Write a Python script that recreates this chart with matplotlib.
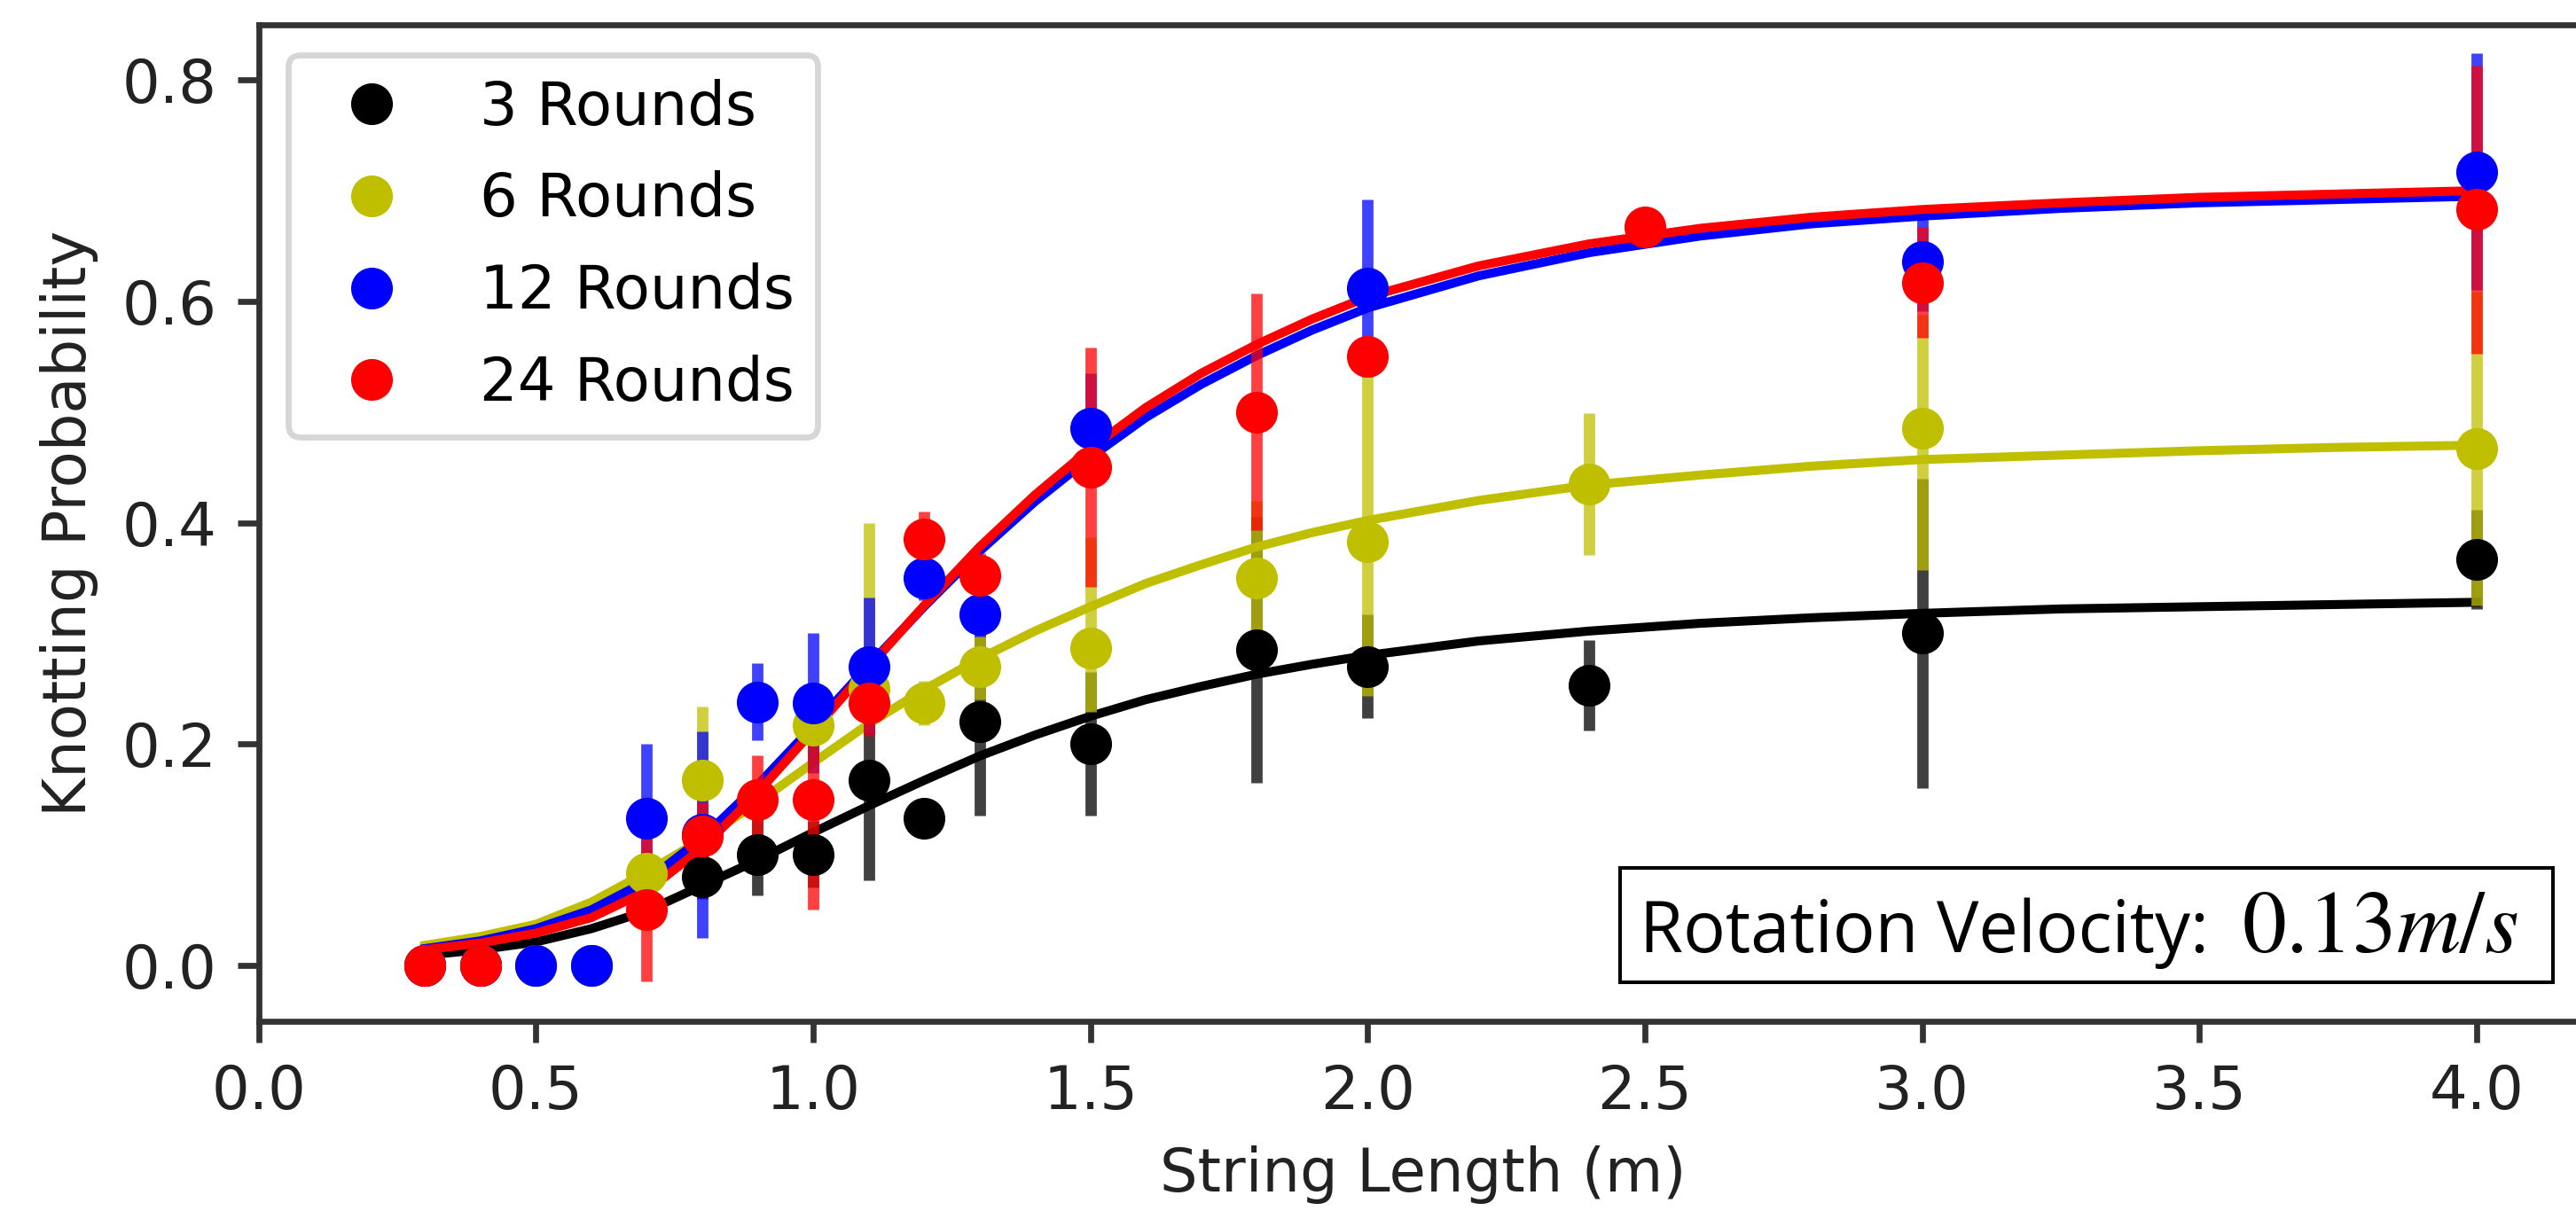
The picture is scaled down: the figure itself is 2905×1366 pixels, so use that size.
import matplotlib
matplotlib.use("Agg")
import matplotlib.pyplot as plt
from matplotlib.lines import Line2D
from matplotlib.patches import Rectangle

# ---------------- data ----------------
series_labels = ["3 Rounds", "6 Rounds", "12 Rounds", "24 Rounds"]

black_x = [0.3, 0.4, 0.5, 0.6, 0.8, 0.9, 1.0, 1.1, 1.2, 1.3, 1.5, 1.8, 2.0, 2.4, 3.0, 4.0]
black_y = [0.0, 0.0, 0.0, 0.0, 0.08, 0.10, 0.10, 0.167, 0.133, 0.22, 0.20, 0.285, 0.27, 0.253, 0.30, 0.367]
black_err = [0.0, 0.0, 0.0, 0.0, 0.02, 0.037, 0.03, 0.09, 0.015, 0.085, 0.065, 0.12, 0.047, 0.041, 0.14, 0.045]

yellow_x = [0.3, 0.4, 0.5, 0.6, 0.7, 0.8, 1.0, 1.1, 1.2, 1.3, 1.5, 1.8, 2.0, 2.4, 3.0, 4.0]
yellow_y = [0.0, 0.0, 0.0, 0.0, 0.083, 0.167, 0.217, 0.25, 0.237, 0.27, 0.287, 0.35, 0.383, 0.435, 0.485, 0.467]
yellow_err_lo = [0.0, 0.0, 0.0, 0.0, 0.02, 0.067, 0.03, 0.04, 0.02, 0.03, 0.058, 0.07, 0.14, 0.064, 0.128, 0.142]
yellow_err_hi = [0.0, 0.0, 0.0, 0.0, 0.02, 0.067, 0.03, 0.15, 0.02, 0.03, 0.10, 0.07, 0.15, 0.064, 0.103, 0.142]

blue_x = [0.3, 0.4, 0.5, 0.6, 0.7, 0.8, 0.9, 1.0, 1.1, 1.2, 1.3, 1.5, 2.0, 3.0, 4.0]
blue_y = [0.0, 0.0, 0.0, 0.0, 0.133, 0.118, 0.238, 0.237, 0.27, 0.35, 0.317, 0.485, 0.612, 0.636, 0.717]
blue_err = [0.0, 0.0, 0.0, 0.0, 0.067, 0.093, 0.035, 0.063, 0.062, 0.02, 0.02, 0.05, 0.08, 0.045, 0.107]

red_x = [0.3, 0.4, 0.7, 0.8, 0.9, 1.0, 1.1, 1.2, 1.3, 1.5, 1.8, 2.0, 2.5, 3.0, 4.0]
red_y = [0.0, 0.0, 0.05, 0.117, 0.15, 0.15, 0.237, 0.385, 0.352, 0.45, 0.50, 0.55, 0.667, 0.617, 0.683]
red_err = [0.0, 0.0, 0.065, 0.03, 0.04, 0.10, 0.03, 0.025, 0.02, 0.108, 0.107, 0.015, 0.015, 0.05, 0.13]

# fitted curves
fit_x = [0.3, 0.4, 0.5, 0.6, 0.7, 0.8, 0.9, 1.0, 1.1, 1.2, 1.3, 1.4, 1.5, 1.6, 1.7,
         1.8, 1.9, 2.0, 2.2, 2.4, 2.6, 2.8, 3.0, 3.25, 3.5, 3.75, 4.0]
black_fit = [0.009, 0.014, 0.021, 0.033, 0.049, 0.072, 0.095, 0.120, 0.144, 0.167, 0.189, 0.208,
             0.225, 0.240, 0.252, 0.263, 0.272, 0.280, 0.293, 0.302, 0.309, 0.314, 0.318, 0.322,
             0.324, 0.326, 0.328]
yellow_fit = [0.018, 0.026, 0.037, 0.057, 0.084, 0.114, 0.147, 0.183, 0.218, 0.249, 0.277, 0.302,
              0.324, 0.345, 0.362, 0.378, 0.391, 0.402, 0.420, 0.434, 0.443, 0.451, 0.457, 0.461,
              0.465, 0.468, 0.470]
blue_fit = [0.015, 0.022, 0.033, 0.050, 0.076, 0.115, 0.163, 0.216, 0.271, 0.324, 0.374, 0.419,
            0.459, 0.495, 0.525, 0.551, 0.574, 0.594, 0.623, 0.644, 0.659, 0.670, 0.677, 0.684,
            0.689, 0.692, 0.695]
red_fit = [0.014, 0.020, 0.029, 0.043, 0.067, 0.106, 0.156, 0.212, 0.269, 0.325, 0.378, 0.425,
           0.467, 0.504, 0.535, 0.561, 0.584, 0.604, 0.632, 0.652, 0.666, 0.676, 0.683, 0.689,
           0.694, 0.697, 0.700]

x_ticks = [0.0, 0.5, 1.0, 1.5, 2.0, 2.5, 3.0, 3.5, 4.0]
y_ticks = [0.0, 0.2, 0.4, 0.6, 0.8]
annotation_label = "Rotation Velocity:"
annotation_value = "$0.13m/s$"

# ---------------- figure ----------------
plt.rcParams["font.family"] = ["DejaVu Sans"]
plt.rcParams["mathtext.fontset"] = "stix"

DPI = 2905 / 6.0
fig = plt.figure(figsize=(2905 / DPI, 1366 / DPI), dpi=DPI)
W, H = 2905.0, 1366.0
ax_left, ax_right = 291.7, 291.7 + 4.2 * 625.3
ax_top, ax_bottom = 28.3, 1151.7
ax = fig.add_axes([ax_left / W, 1 - ax_bottom / H, (ax_right - ax_left) / W, (ax_bottom - ax_top) / H])

colors = ["black", "y", "blue", "red"]
bar_alpha = 0.75
ms = 6
elw = 1.9
flw = 1.5

def ecol(c):
    r, g, b, _ = matplotlib.colors.to_rgba(c)
    return (r, g, b, bar_alpha)

series = [
    (black_x, black_y, [black_err, black_err], black_fit),
    (yellow_x, yellow_y, [yellow_err_lo, yellow_err_hi], yellow_fit),
    (blue_x, blue_y, [blue_err, blue_err], blue_fit),
    (red_x, red_y, [red_err, red_err], red_fit),
]

for (xs, ys, errs, fit), c in zip(series, colors):
    ax.errorbar(xs, ys, yerr=errs, fmt="o", color=c, ms=ms, ecolor=ecol(c),
                elinewidth=elw, capsize=0)
    ax.plot(fit_x, fit, "-", color=c, lw=flw)

ax.set_xlim(0, 4.2)
ax.set_ylim(-0.05045, 0.84965)
ax.set_xticks(x_ticks)
ax.set_yticks(y_ticks)
ax.set_xticklabels([f"{v:.1f}" for v in x_ticks])
ax.set_yticklabels([f"{v:.1f}" for v in y_ticks])

text_color = "#222222"
for s in ax.spines.values():
    s.set_color("#333333")
    s.set_linewidth(1.0)
ax.tick_params(direction="out", length=3.5, width=1.0, color="#333333",
               labelsize=10, labelcolor=text_color, pad=3.5)
ax.set_xlabel("String Length (m)", fontsize=10, color=text_color)
ax.set_ylabel("Knotting Probability", fontsize=10, color=text_color)

handles = [Line2D([], [], linestyle="none", marker="o", color=c, ms=ms) for c in colors]
ax.legend(handles, series_labels, loc="upper left", fontsize=10, numpoints=1,
          frameon=True, edgecolor="0.8", framealpha=0.8, labelspacing=0.56)

# annotation box (overlay)
bx0, bx1, by0, by1 = 1827.0, 2879.0, 979.0, 1108.0
fig.patches.append(Rectangle((bx0 / W, 1 - by1 / H), (bx1 - bx0) / W, (by1 - by0) / H,
                             transform=fig.transFigure, facecolor="white",
                             edgecolor="black", lw=0.6, zorder=5))
baseline = 1 - 1074.0 / H
t1 = fig.text(1849.0 / W, baseline, annotation_label, ha="left", va="baseline",
              fontsize=11.8, family=["Open Sans", "DejaVu Sans"], color="black", zorder=6)
t2 = fig.text(2684.0 / W, baseline, annotation_value, ha="center", va="baseline",
              fontsize=14, color="black", zorder=6)

# scale the label to the width seen in the reference
fig.canvas.draw()
r = fig.canvas.get_renderer()
w = t1.get_window_extent(r).width
t1.set_fontsize(t1.get_fontsize() * (2493.0 - 1849.0) / w)
w2 = t2.get_window_extent(r).width
t2.set_fontsize(min(14.8, t2.get_fontsize() * (2847.0 - 2521.0) / w2))

fig.savefig("out.png", dpi=DPI)
